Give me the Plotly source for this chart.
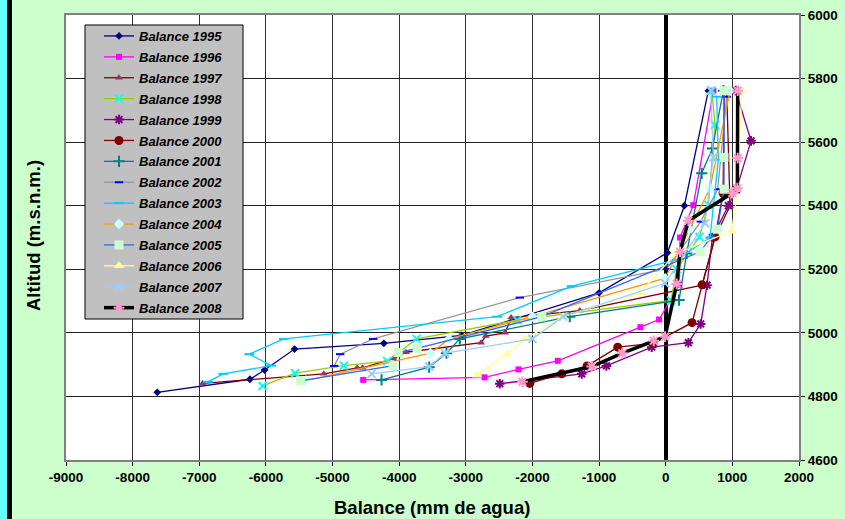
import plotly.graph_objects as go

years = ["1995", "1996", "1997", "1998", "1999", "2000", "2001",
         "2002", "2003", "2004", "2005", "2006", "2007", "2008"]

x_ticks = [-9000, -8000, -7000, -6000, -5000, -4000, -3000, -2000, -1000, 0, 1000, 2000]
x_tick_labels = ["-9000", "-8000", "-7000", "-6000", "-5000", "-4000", "-3000",
                 "-2000", "-1000", "0", "1000", "2000"]

x_1995 = [-7630, -6240, -6020, -5570, -4230, -3060, -1000, 25, 280, 640]
y_1995 = [4813, 4854, 4883, 4949, 4967, 4992, 5126, 5252, 5400, 5762]
x_1996 = [-4540, -2720, -2210, -1620, -380, -100, 205, 215, 415, 715]
y_1996 = [4852, 4860, 4885, 4912, 5018, 5042, 5151, 5300, 5402, 5762]
x_1997 = [-6950, -5130, -4630, -4550, -4090, -3900, -2770, -2700, -2410, -2320, -1290, 545, 740, 965, 915]
y_1997 = [4841, 4871, 4890, 4890, 4919, 4939, 4969, 4990, 5000, 5048, 5070, 5150, 5300, 5400, 5760]
x_1998 = [-6050, -5560, -4830, -4180, -3740, -2230, 80, 165, 505, 640, 740, 690]
y_1998 = [4833, 4873, 4897, 4911, 4981, 5040, 5102, 5200, 5302, 5402, 5654, 5762]
x_1999 = [-2490, -1260, -890, -210, 340, 525, 620, 700, 940, 1060, 1280, 1050]
y_1999 = [4840, 4871, 4896, 4955, 4969, 5028, 5150, 5300, 5400, 5450, 5604, 5762]
x_2000 = [-2040, -1560, -1180, -720, -190, 395, 545, 740, 860, 880]
y_2000 = [4841, 4871, 4896, 4955, 4967, 5032, 5151, 5302, 5440, 5762]
x_2001 = [-4265, -3550, -3290, -3090, -1440, 200, 315, 540, 700, 865]
y_2001 = [4852, 4892, 4936, 4981, 5051, 5103, 5250, 5502, 5580, 5762]
x_2002 = [-4975, -4885, -4390, -2190, 15, 525, 780, 915]
y_2002 = [4896, 4933, 4981, 5111, 5201, 5350, 5452, 5743]
x_2003 = [-6870, -6640, -5920, -6250, -5730, -2530, -1410, 165, 665, 790, 765]
y_2003 = [4846, 4871, 4897, 4933, 4981, 5051, 5147, 5230, 5300, 5545, 5743]
x_2004 = [-5400, -3530, -3250, -2000, -10, 355, 665, 965]
y_2004 = [4850, 4936, 4981, 5051, 5172, 5326, 5455, 5762]
x_2005 = [-5480, -4090, -4015, -3730, -1860, 515, 775, 875, 875, 875]
y_2005 = [4849, 4897, 4938, 4951, 5051, 5255, 5326, 5452, 5552, 5762]
x_2006 = [-2830, -2380, -2110, -1540, -390, 155, 990, 1080, 1140]
y_2006 = [4867, 4933, 4981, 5051, 5126, 5250, 5320, 5450, 5762]
x_2007 = [-4415, -3550, -3310, -2000, -1540, -10, 590, 715, 675]
y_2007 = [4871, 4894, 4936, 4981, 5051, 5156, 5345, 5552, 5762]
x_2008 = [-2150, -1110, -650, -180, -10, 165, 215, 340, 1000, 1075, 1080, 1080]
y_2008 = [4846, 4894, 4936, 4975, 4988, 5154, 5255, 5353, 5440, 5455, 5550, 5762]

xs = [x_1995, x_1996, x_1997, x_1998, x_1999, x_2000, x_2001,
      x_2002, x_2003, x_2004, x_2005, x_2006, x_2007, x_2008]
ys = [y_1995, y_1996, y_1997, y_1998, y_1999, y_2000, y_2001,
      y_2002, y_2003, y_2004, y_2005, y_2006, y_2007, y_2008]

# style per series: line colour, line width, marker symbol, marker colour, marker size
styles = [
    ("#000080", 1.3, "diamond", "#000080", 6),
    ("#FF00FF", 1.3, "square", "#FF00FF", 6),
    ("#800000", 1.3, "triangle-up", "#993366", 7),
    ("#99CC00", 1.3, "x-thin-open", "#00FFFF", 8),
    ("#800080", 1.3, "asterisk-open", "#800080", 8),
    ("#800000", 1.3, "circle", "#800000", 9),
    ("#008080", 1.3, "cross-thin-open", "#008080", 8),
    ("#969696", 1.3, "line-ew-open", "#0000FF", 6),
    ("#00CCFF", 1.3, "line-ew-open", "#00CCFF", 7),
    ("#FF9900", 1.3, "diamond", "#CCFFFF", 8),
    ("#3366FF", 1.3, "square", "#CCFFCC", 9),
    ("#FFFF99", 1.3, "triangle-up", "#FFFF99", 9),
    ("#99CCFF", 1.3, "x-thin-open", "#99CCFF", 8),
    ("#000000", 3.5, "asterisk-open", "#FF99CC", 9),
]

fig = go.Figure()
for yr, xv, yv, (lc, lw, sym, mc, ms) in zip(years, xs, ys, styles):
    open_sym = sym.endswith("-open")
    fig.add_trace(go.Scatter(
        x=xv, y=yv, mode="lines+markers", name="Balance " + yr,
        legendgroup=yr,
        line=dict(color=lc, width=lw),
        marker=dict(symbol=sym, color=mc, size=ms,
                    line=dict(color=mc, width=2 if open_sym else 0)),
    ))

L, R, T, B = 66, 46, 15, 59
W, H = 845, 519
pw, ph = W - L - R, H - T - B

def px(v):
    return (v - L) / pw

def py(v):
    return (H - B - v) / ph

font = "Liberation Sans, Arial, sans-serif"

fig.update_layout(
    width=W, height=H,
    margin=dict(l=L, r=R, t=T, b=B, autoexpand=False),
    paper_bgcolor="#CCFFCC",
    plot_bgcolor="#FFFFFF",
    font=dict(family=font, color="#000000"),
    showlegend=True,
    legend=dict(
        x=px(99), y=py(21), xanchor="left", yanchor="top",
        bgcolor="rgba(0,0,0,0)", borderwidth=0,
        font=dict(family=font, size=13, weight="bold", style="italic"),
        tracegroupgap=1.0, itemwidth=30,
    ),
    xaxis=dict(
        range=[-9000, 2000], tickmode="array", tickvals=x_ticks, ticktext=x_tick_labels,
        showgrid=True, gridcolor="#303030", gridwidth=1,
        zeroline=True, zerolinecolor="#000000", zerolinewidth=4,
        showline=True, linecolor="#808080", linewidth=2, mirror=True,
        ticks="outside", ticklen=4, tickcolor="#000000",
        tickfont=dict(family=font, size=13.5, weight="bold"),
        automargin=False,
    ),
    yaxis=dict(
        range=[4600, 6000], dtick=200, side="right",
        showgrid=True, gridcolor="#202020", gridwidth=1,
        zeroline=False,
        showline=True, linecolor="#808080", linewidth=2, mirror=True,
        ticks="outside", ticklen=4, tickcolor="#000000",
        tickfont=dict(family=font, size=13.5, weight="bold"),
        automargin=False,
    ),
    shapes=[
        dict(type="rect", xref="paper", yref="paper",
             x0=px(85), x1=px(243), y0=py(319), y1=py(25),
             fillcolor="#C0C0C0", line=dict(color="#000000", width=1), layer="above"),
        dict(type="rect", xref="paper", yref="paper",
             x0=px(0), x1=px(7), y0=py(H), y1=py(0),
             fillcolor="#66FFFF", line=dict(width=0), layer="above"),
        dict(type="rect", xref="paper", yref="paper",
             x0=px(7), x1=px(12), y0=py(H), y1=py(0),
             fillcolor="#000000", line=dict(width=0), layer="above"),
    ],
    annotations=[
        dict(text="Altitud (m.s.n.m.)", xref="paper", yref="paper",
             x=px(33), y=py(236), xanchor="center", yanchor="middle",
             textangle=-90, showarrow=False,
             font=dict(family=font, size=18.5, weight="bold")),
        dict(text="Balance (mm de agua)", xref="paper", yref="paper",
             x=px(432), y=py(507), xanchor="center", yanchor="middle",
             showarrow=False,
             font=dict(family=font, size=18.5, weight="bold")),
    ],
)

fig.write_html("out.html", config={"displayModeBar": False},
               post_script="document.body.style.margin='0';document.body.style.overflow='hidden';")
